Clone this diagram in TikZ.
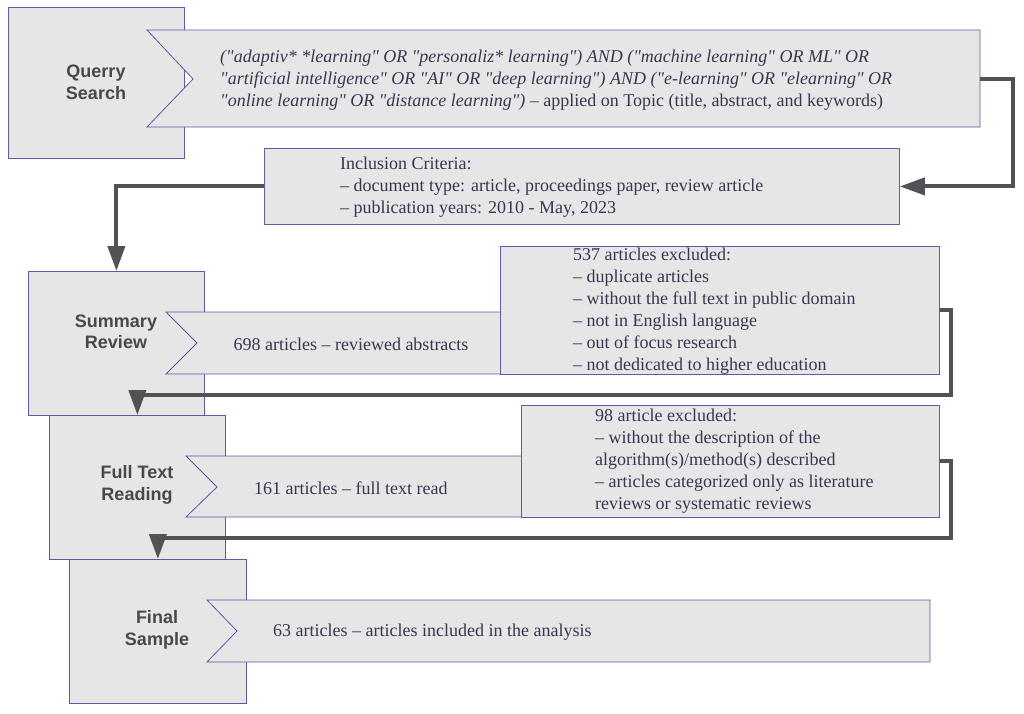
\documentclass[tikz,border=0pt]{standalone}
\usepackage{fontspec}
\setmainfont{Liberation Serif}[Ligatures=TeXOff]
\newfontfamily\labelfont{Liberation Sans}
\usetikzlibrary{arrows.meta}
\definecolor{boxline}{RGB}{90,90,165}
\definecolor{boxfill}{RGB}{230,230,231}
\definecolor{bodytxt}{RGB}{55,55,80}
\definecolor{labeltxt}{RGB}{72,72,76}
\definecolor{flowcol}{RGB}{82,82,86}
\begin{document}
\begin{tikzpicture}[x=1pt,y=-1pt,
  stagebox/.style={draw=boxline, fill=boxfill, line width=0.8pt, inner sep=0pt, anchor=north west},
  chev/.style={draw=boxline, fill=boxfill, line width=0.8pt},
  lbl/.style={font=\labelfont\bfseries\fontsize{18}{21.5}\selectfont, text=labeltxt, align=center, inner sep=0pt},
  body/.style={font=\fontsize{18}{22}\selectfont, text=bodytxt, align=left, inner sep=0pt, anchor=west},
  flow/.style={draw=flowcol, line width=4pt, line join=miter, -{Triangle[length=25pt,width=17pt]}}
]
\useasboundingbox (0,0) rectangle (1024,713);

% Querry Search
\node[stagebox, minimum width=176pt, minimum height=151pt] (qs) at (8,7) {};
\draw[chev] (147,30) -- (980,30) -- (980,127) -- (147,127) -- (193,79) -- cycle;
\coordinate (qR) at (980,79);
\node[lbl] (qsl) at (96,82.5) {Querry\\Search};
\node[body] (qtext) at (220,80) {\itshape ("adaptiv* *learning" OR "personaliz* learning") AND ("machine learning" OR ML" OR\\
\itshape "artificial intelligence" OR "AI" OR "deep learning") AND ("e-learning" OR "elearning" OR\\
\itshape "online learning" OR "distance learning")\upshape{} – applied on Topic (title, abstract, and keywords)};

% Inclusion criteria
\node[stagebox, minimum width=635pt, minimum height=76pt] (inc) at (264,148) {};
\node[body] (inctext) at (340,187) {Inclusion Criteria:\\
– document type: article, proceedings paper, review article\\
– publication years: 2010 - May, 2023};

% Summary Review
\node[stagebox, minimum width=176pt, minimum height=144pt] (sr) at (28,271) {};
\draw[chev] (166,312) -- (939,312) -- (939,374) -- (166,374) -- (197,343) -- cycle;
\node[lbl] (srl) at (116,332) {Summary\\Review};
\node[body, anchor=center] (srtext) at (351,344) {698 articles – reviewed abstracts};
\node[stagebox, minimum width=439pt, minimum height=128pt] (ex1) at (500,246) {};
\node[body] (ex1text) at (573,311) {537 articles excluded:\\
– duplicate articles\\
– without the full text in public domain\\
– not in English language\\
– out of focus research\\
– not dedicated to higher education};

% Full Text Reading
\node[stagebox, minimum width=176pt, minimum height=144pt] (ft) at (49,415) {};
\draw[chev] (186,456) -- (939,456) -- (939,517) -- (186,517) -- (217,487) -- cycle;
\node[lbl] (ftl) at (137,485) {Full Text\\Reading};
\node[body] (fttext) at (254,488) {161 articles – full text read};
\node[stagebox, minimum width=418pt, minimum height=112pt] (ex2) at (521,405) {};
\node[body] (ex2text) at (595,461) {98 article excluded:\\
– without the description of the\\
algorithm(s)/method(s) described\\
– articles categorized only as literature\\
reviews or systematic reviews};

% Final Sample
\node[stagebox, minimum width=177pt, minimum height=144pt] (fs) at (69,559) {};
\draw[chev] (207,600) -- (930,600) -- (930,662) -- (207,662) -- (237,631) -- cycle;
\node[lbl] (fsl) at (157,630) {Final\\Sample};
\node[body] (fstext) at (273,632) {63 articles – articles included in the analysis};

% connectors
\coordinate (k1) at (1013,79);
\coordinate (k3) at (951,395);
\coordinate (k4) at (951,538);
\draw[flow] (qR) -- (k1) |- (inc.east);
\draw[flow] (inc.west) -| (sr.north);
\draw[flow] (ex1.east) -| (k3) -| (ft.north);
\draw[flow] (ex2.east) -| (k4) -| (fs.north);
\end{tikzpicture}
\end{document}
